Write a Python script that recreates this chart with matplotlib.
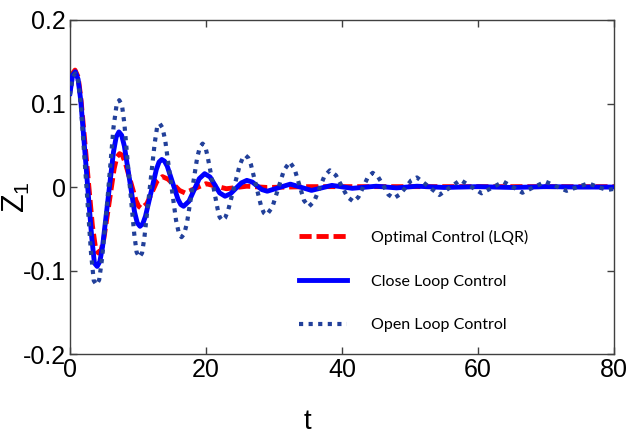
import matplotlib
matplotlib.use("Agg")
import matplotlib.pyplot as plt

# ---- data ----
t_lqr = [0.0, 0.4, 0.75, 1.2, 1.6, 2.45, 3.3, 3.8, 4.2, 4.6, 5.0, 5.75, 6.5, 6.9, 7.3,
         7.7, 8.1, 8.9, 9.7, 10.1, 10.5, 11.3, 12.05, 12.8, 13.6, 14.4, 15.25, 16.1, 16.9,
         18.45, 20.0, 23.0, 26.0, 29.0, 35.0, 80.0]
z_lqr = [0.115, 0.136, 0.140, 0.132, 0.107, 0.0305, -0.046, -0.075, -0.079, -0.075, -0.061,
         -0.0195, 0.022, 0.036, 0.040, 0.038, 0.030, 0.007, -0.016, -0.023, -0.0255, -0.020,
         -0.0065, 0.007, 0.0125, 0.0095, 0.003, -0.004, -0.007, -0.0015, 0.004, -0.002,
         0.001, -0.0005, 0.0005, 0.0005]

t_close = [0.0, 0.4, 0.8, 1.2, 1.6, 2.4, 3.2, 3.6, 4.0, 4.4, 4.8, 5.6, 6.4, 6.8, 7.2,
           7.6, 8.0, 8.75, 9.5, 9.9, 10.3, 10.7, 11.1, 11.9, 12.7, 13.1, 13.5, 13.9, 14.3,
           15.1, 15.9, 16.3, 16.7, 17.5, 18.25, 19.0, 19.8, 20.6, 21.3, 22.0, 22.8, 23.6,
           24.4, 25.2, 26.0, 26.8, 27.5, 28.2, 29.0, 30.7, 32.4, 35.5, 38.5, 41.5, 45.0,
           48.0, 51.0, 55.0, 60.0, 65.0, 70.0, 75.0, 80.0]
z_close = [0.112, 0.134, 0.138, 0.129, 0.103, 0.0215, -0.060, -0.091, -0.095, -0.089, -0.071,
           -0.0145, 0.042, 0.060, 0.066, 0.062, 0.049, 0.0095, -0.030, -0.043, -0.047, -0.044,
           -0.035, -0.007, 0.021, 0.030, 0.033, 0.031, 0.025, 0.005, -0.015, -0.021, -0.023,
           -0.017, -0.0035, 0.010, 0.016, 0.012, 0.0025, -0.007, -0.011, -0.008, -0.0015,
           0.005, 0.008, 0.006, 0.0015, -0.003, -0.005, -0.0007, 0.0035, -0.004, 0.002,
           -0.0015, 0.001, -0.001, 0.001, -0.0005, 0.0005, -0.0005, 0.0005, 0.0, 0.0]

t_open = [0.0, 0.4, 0.8, 1.2, 1.6, 2.35, 3.1, 3.5, 3.9, 4.3, 4.75, 5.6, 6.4, 6.85, 7.25,
          7.65, 8.0, 8.7, 9.45, 9.8, 10.2, 10.6, 10.95, 11.7, 12.45, 12.8, 13.2, 13.6, 14.0,
          14.8, 15.6, 16.0, 16.4, 16.8, 17.2, 17.95, 18.7, 19.1, 19.5, 19.9, 20.2, 20.95,
          21.7, 22.0, 22.4, 22.8, 23.25, 24.1, 24.95, 25.4, 25.8, 26.2, 26.6, 27.35, 28.1,
          28.5, 28.9, 29.75, 30.6, 31.45, 32.3, 33.0, 33.7, 34.4, 35.1, 35.9, 36.65, 37.4,
          38.2, 39.1, 39.95, 40.8, 41.7, 42.4, 43.1, 43.8, 44.5, 45.3, 46.05, 46.8, 47.6,
          48.45, 49.3, 50.15, 51.0, 52.65, 54.3, 55.85, 57.4, 58.95, 60.5, 62.1, 63.7, 65.1,
          66.5, 68.2, 69.9, 71.45, 73.0, 74.6, 76.2, 77.6, 79.0, 80.0]
z_open = [0.110, 0.132, 0.136, 0.127, 0.098, 0.0095, -0.079, -0.112, -0.117, -0.111, -0.084,
          -0.0065, 0.071, 0.098, 0.104, 0.098, 0.076, 0.010, -0.056, -0.078, -0.084, -0.079,
          -0.060, -0.004, 0.052, 0.071, 0.076, 0.071, 0.056, 0.008, -0.040, -0.055, -0.060,
          -0.056, -0.043, -0.004, 0.035, 0.048, 0.052, 0.048, 0.038, 0.006, -0.026, -0.036,
          -0.040, -0.037, -0.028, -0.001, 0.026, 0.035, 0.038, 0.035, 0.027, 0.002, -0.023,
          -0.031, -0.0335, -0.024, -0.002, 0.020, 0.030, 0.022, 0.003, -0.016, -0.0235,
          -0.017, -0.002, 0.013, 0.020, 0.014, 0.001, -0.012, -0.0175, -0.012, 0.000, 0.012,
          0.017, 0.012, 0.002, -0.009, -0.0135, -0.009, -0.001, 0.008, 0.0115, 0.001,
          -0.0095, -0.0005, 0.0085, 0.0005, -0.0075, -0.0005, 0.0065, 0.0, -0.0068, 0.0,
          0.0065, 0.001, -0.0045, 0.0, 0.0045, 0.0, -0.0036, -0.002]

labels = ["Optimal Control (LQR)", "Close Loop Control", "Open Loop Control"]
xticks = [0, 20, 40, 60, 80]
yticks = [-0.2, -0.1, 0, 0.1, 0.2]
yticklabels = ["-0.2", "-0.1", "0", "0.1", "0.2"]

# ---- figure ----
sans = ["Liberation Sans", "DejaVu Sans"]
fig = plt.figure(figsize=(6.3, 4.34), dpi=100)
ax = fig.add_axes([0.111, 0.184, 0.864, 0.770])

l1, = ax.plot(t_lqr, z_lqr, color="#ff0000", lw=3.5, linestyle=(0, (2.5, 1.0)), zorder=2)
l2, = ax.plot(t_close, z_close, color="#0000ff", lw=3.5, zorder=3)
l3, = ax.plot(t_open, z_open, color="#22409a", lw=3.0, linestyle=(0, (1.0, 1.3)), zorder=4)

ax.set_xlim(0, 80)
ax.set_ylim(-0.2, 0.2)
ax.set_xticks(xticks)
ax.set_xticklabels([str(v) for v in xticks])
ax.set_yticks(yticks)
ax.set_yticklabels(yticklabels)
ax.tick_params(direction="in", top=True, right=True, length=5, width=1,
               color="#404040", pad=3)
for lab in ax.get_xticklabels() + ax.get_yticklabels():
    lab.set_fontfamily(sans)
    lab.set_fontsize(18)
for sp in ax.spines.values():
    sp.set_color("#404040")
    sp.set_linewidth(1.0)

ax.set_xlabel("t", fontsize=20, family=sans)
ax.xaxis.set_label_coords(0.436, -0.165)
ax.set_ylabel(r"$\mathregular{Z_1}$", fontsize=22, family=sans)
ax.yaxis.set_label_coords(-0.07, 0.47)

leg = ax.legend([l1, l2, l3], labels, loc="upper left", bbox_to_anchor=(0.395, 0.415),
                frameon=False, prop={"family": ["Lato", "DejaVu Sans"], "size": 11.5},
                handlelength=3.0, handletextpad=1.5, labelspacing=1.85)

fig.savefig("out.png", dpi=100)
